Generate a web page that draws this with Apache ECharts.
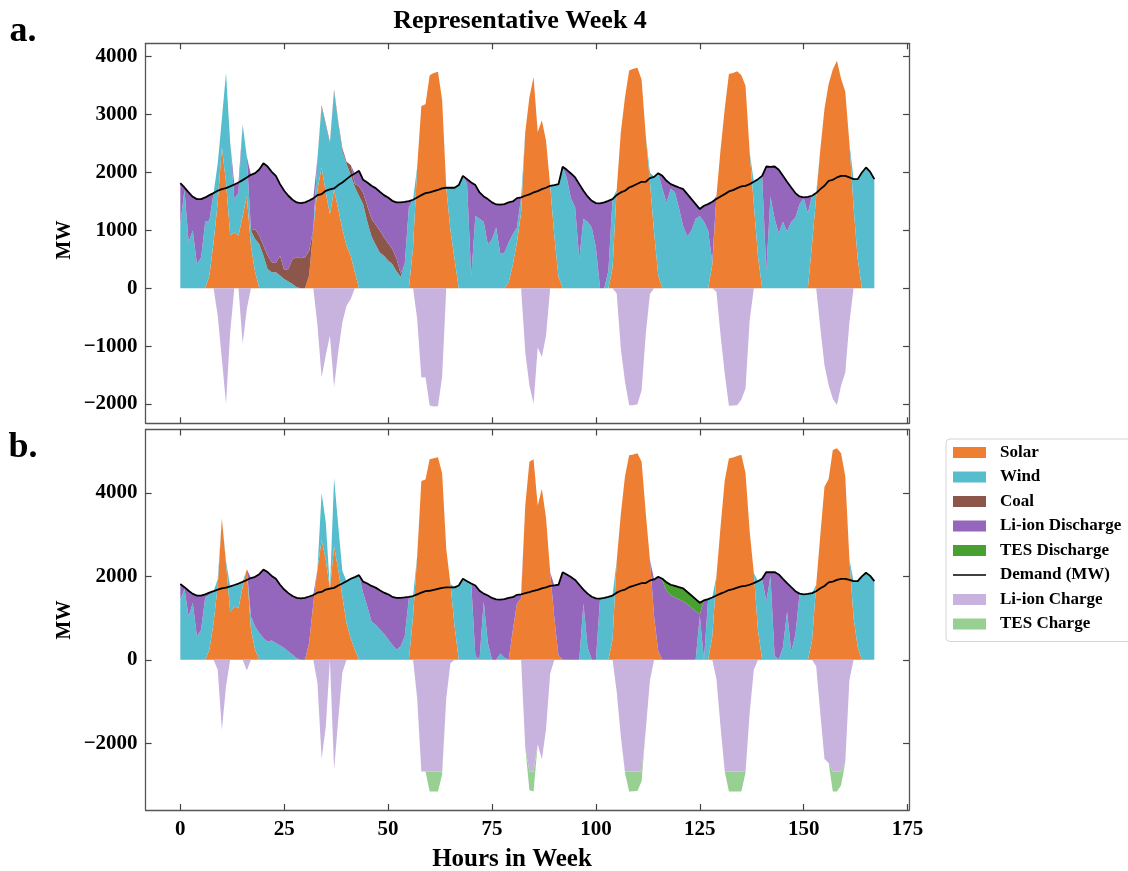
<!DOCTYPE html>
<html>
<head>
<meta charset="utf-8">
<script src="https://cdn.jsdelivr.net/npm/echarts@6/dist/echarts.min.js"></script>
<style>
html,body{margin:0;padding:0;background:#fff;}
#chart{width:1128px;height:871px;}
</style>
</head>
<body>
<div id="chart"></div>
<script>
// Hourly dispatch for one representative week (hours 0..167), MW.
const HOURS = Array.from({length: 168}, (_, i) => i);

const DEMAND = [
1816,1741,1655,1580,1540,1540,1569,1609,1644,1684,1713,1730,
1759,1793,1828,1868,1914,1960,1988,2052,2161,2103,2011,1942,
1799,1684,1598,1529,1483,1471,1483,1517,1552,1609,1626,1684,
1707,1724,1782,1828,1885,1942,1983,2029,1874,1828,1770,1730,
1667,1609,1569,1511,1483,1483,1494,1506,1529,1569,1609,1644,
1655,1678,1701,1724,1736,1736,1736,1782,1942,1885,1828,1782,
1655,1586,1540,1483,1448,1443,1454,1483,1500,1557,1569,1598,
1621,1655,1678,1713,1736,1770,1782,1799,2100,2046,1983,1914,
1799,1684,1586,1511,1471,1465,1483,1511,1540,1609,1655,1684,
1741,1770,1805,1839,1839,1902,1925,1988,1942,1856,1799,1770,
1741,1713,1626,1540,1454,1368,1425,1454,1494,1540,1586,1626,
1672,1695,1730,1759,1770,1799,1839,1885,1942,2103,2098,2103,
2046,1942,1839,1741,1644,1586,1569,1580,1598,1644,1713,1770,
1856,1874,1914,1942,1942,1914,1885,1885,2000,2086,2011,1885];

// ---- Case a ----
const SOLAR_A = [
0,0,0,0,0,0,0,220,790,1480,2430,1830,
920,965,910,1250,1590,735,275,0,0,0,0,0,
0,0,0,0,0,0,0,220,1020,1710,2085,1655,
1280,1700,1370,1020,735,565,275,0,0,0,0,0,
0,0,0,0,0,0,0,0,700,2100,3150,3180,
3680,3720,3740,3250,1736,1000,500,0,0,0,0,0,
0,0,0,0,0,0,0,100,400,800,1300,2700,
3300,3650,2700,2900,2550,1770,900,200,0,0,0,0,
0,0,0,0,0,0,0,0,350,1700,2700,3300,
3760,3790,3810,3600,2630,1830,965,220,0,0,0,0,
0,0,0,0,0,0,0,0,400,1600,2400,3100,
3700,3720,3750,3680,3500,2350,1450,550,0,0,0,0,
0,0,0,0,0,0,0,0,760,1580,2400,3100,
3530,3780,3930,3620,3400,2500,1400,500,0,0,0,0];

const WIND_A = [
1100,1700,800,1000,420,530,1150,950,854,670,500,1890,
1600,575,740,1580,684,265,575,765,565,335,275,275,
220,160,115,75,17,0,0,0,0,540,1045,1160,
1215,1700,1480,1350,1415,1395,1475,1600,1450,1150,900,750,
620,560,480,420,300,200,420,1400,829,0,0,0,
0,0,0,0,0,736,1236,1782,1942,1800,200,1250,
1200,1150,750,850,1050,590,620,690,535,250,269,0,
0,0,0,0,0,0,882,1599,2100,1900,1550,1400,
500,1200,1150,1050,700,0,0,300,1190,0,0,0,
0,0,0,0,0,170,960,1768,1720,1480,1720,1660,
1380,1070,900,1000,1200,1250,1150,1000,50,0,0,0,
0,0,0,0,0,0,389,1335,1942,300,1580,1200,
950,1150,980,1150,1220,1450,1560,1300,838,64,0,0,
0,0,0,0,0,0,485,1385,2000,2086,2011,1885];

const COAL_A = [
0,0,0,0,0,0,0,0,0,0,0,0,
0,0,0,0,0,0,170,145,170,230,175,162,
343,156,218,431,517,517,534,430,0,0,30,29,
27,31,32,43,35,167,50,160,200,270,300,350,
380,320,300,260,220,60,0,0,0,0,0,0,
0,0,0,0,0,0,0,0,0,0,0,0,
0,0,0,0,0,0,0,0,0,0,0,0,
0,0,0,0,0,0,0,0,0,0,0,0,
0,0,0,0,0,0,0,0,0,0,0,0,
0,0,0,0,0,0,0,0,0,0,0,0,
0,0,0,0,0,0,0,0,0,0,0,0,
0,0,0,0,0,0,0,0,0,0,0,0,
0,0,0,0,0,0,0,0,0,0,0,0,
0,0,0,0,0,0,0,0,0,0,0,0];

const LI_DIS_A = [
716,41,855,580,1120,1010,419,439,0,0,0,0,
0,253,178,0,0,960,968,1142,1426,1538,1561,1505,
1236,1368,1265,1023,949,954,949,867,532,0,0,0,
0,0,0,0,0,0,183,269,224,408,570,630,
667,729,789,831,963,1223,1074,106,0,0,0,0,
0,0,0,0,0,0,0,0,0,85,1628,532,
455,436,790,633,398,853,834,693,565,507,0,0,
0,0,0,0,0,0,0,0,0,146,433,514,
1299,484,436,461,771,1465,1483,1211,0,0,0,0,
0,0,0,0,0,0,0,0,222,376,79,110,
361,643,726,540,254,118,275,454,1044,0,0,0,
0,0,0,0,0,0,0,0,0,1803,518,903,
1096,792,859,591,424,136,9,280,0,0,0,0,
0,0,0,0,0,0,0,0,0,0,0,0];

const LI_CHG_A = [
0,0,0,0,0,0,0,0,0,-470,-1220,-1994,
-760,0,0,-960,-360,0,0,0,0,0,0,0,
0,0,0,0,0,0,0,0,0,-640,-1535,-1160,
-815,-1707,-1100,-585,-300,-185,0,0,0,0,0,0,
0,0,0,0,0,0,0,0,0,-530,-1540,-1536,
-2025,-2042,-2039,-1526,0,0,0,0,0,0,0,0,
0,0,0,0,0,0,0,0,0,0,0,-1102,
-1679,-1995,-1022,-1187,-814,0,0,0,0,0,0,0,
0,0,0,0,0,0,0,0,0,-91,-1045,-1616,
-2019,-2020,-2005,-1761,-791,-98,0,0,0,0,0,0,
0,0,0,0,0,0,0,0,0,-60,-814,-1474,
-2028,-2025,-2020,-1921,-1730,-551,0,0,0,0,0,0,
0,0,0,0,0,0,0,0,0,0,-687,-1330,
-1674,-1906,-2016,-1678,-1458,-586,0,0,0,0,0,0];

// ---- Case b ----
const SOLAR_B = [
0,0,0,0,0,0,0,240,880,1760,3393,2300,
1158,1277,1237,1756,2169,720,240,0,0,0,0,0,
0,0,0,0,0,0,0,400,1357,2156,2874,2395,
1700,2714,2156,1517,878,519,240,0,0,0,0,0,
0,0,0,0,0,0,0,0,1038,2495,4284,4319,
4809,4832,4855,4471,2650,1816,798,0,0,0,0,0,
0,0,0,0,0,0,0,0,700,1350,1477,3700,
4750,4809,3700,4100,3400,2100,1000,100,0,0,0,0,
0,0,0,0,0,0,0,0,480,2367,3500,4400,
4900,4920,4950,4750,3513,2400,1038,200,0,0,0,0,
0,0,0,0,0,0,0,0,550,2000,3200,4301,
4826,4849,4884,4913,4480,3076,2079,700,0,0,0,0,
0,0,0,0,0,0,0,0,450,1800,3000,4150,
4331,5028,5068,4950,4400,2400,1000,300,0,0,0,0];

const WIND_B = [
1440,1700,1040,1360,560,720,1500,1320,764,164,0,70,
601,516,591,112,0,320,560,640,520,430,460,400,
340,280,200,120,40,0,0,0,0,13,1126,905,
7,1645,1063,611,1007,1423,1743,2029,1597,1277,918,838,
735,623,495,359,240,320,559,1477,491,0,0,0,
0,0,0,0,0,0,938,1782,1942,1885,1828,100,
0,1400,400,0,0,150,50,0,0,0,0,0,
0,0,0,0,0,0,0,0,0,0,0,0,
0,1350,300,0,0,1465,1483,1511,1060,0,0,0,
0,0,0,0,0,0,0,0,0,0,0,0,
0,0,0,0,0,1050,0,1454,944,0,0,0,
0,0,0,0,0,0,0,1185,1942,1400,2000,100,
0,300,1150,200,600,1586,1569,1580,1148,0,0,0,
0,0,0,0,0,0,885,1585,2000,2086,2011,1885];

const LI_DIS_B = [
376,41,615,220,980,820,69,49,0,0,0,0,
0,0,0,0,0,920,1188,1412,1641,1673,1551,1542,
1459,1404,1398,1409,1443,1471,1483,1117,195,0,0,0,
0,0,0,0,0,0,0,0,277,551,852,892,
932,986,1074,1152,1243,1163,935,29,0,0,0,0,
0,0,0,0,0,0,0,0,0,0,0,1682,
1655,186,1140,1483,1448,1293,1404,1483,800,207,92,0,
0,0,0,0,0,0,782,1699,2100,2046,1983,1914,
1799,334,1286,1511,1471,0,0,0,0,0,0,0,
0,0,0,0,0,0,887,1788,1892,1656,1549,1500,
1451,1403,1336,1250,1164,38,1425,0,0,0,0,0,
0,0,0,0,0,0,0,0,0,703,98,2003,
2046,1642,689,1541,1044,0,0,0,0,0,0,0,
0,0,0,0,0,0,0,0,0,0,0,0];

const TES_DIS_B = [
0,0,0,0,0,0,0,0,0,0,0,0,
0,0,0,0,0,0,0,0,0,0,0,0,
0,0,0,0,0,0,0,0,0,0,0,0,
0,0,0,0,0,0,0,0,0,0,0,0,
0,0,0,0,0,0,0,0,0,0,0,0,
0,0,0,0,0,0,0,0,0,0,0,0,
0,0,0,0,0,0,0,0,0,0,0,0,
0,0,0,0,0,0,0,0,0,0,0,0,
0,0,0,0,0,0,0,0,0,0,0,0,
0,0,0,0,0,0,0,0,50,200,250,270,
290,310,290,290,290,280,0,0,0,0,0,0,
0,0,0,0,0,0,0,0,0,0,0,0,
0,0,0,0,0,0,0,0,0,0,0,0,
0,0,0,0,0,0,0,0,0,0,0,0];

const LI_CHG_B = [
0,0,0,0,0,0,0,0,0,-240,-1680,-640,
0,0,0,0,-255,0,0,0,0,0,0,0,
0,0,0,0,0,0,0,0,0,-560,-2374,-1616,
0,-2635,-1437,-300,0,0,0,0,0,0,0,0,
0,0,0,0,0,0,0,0,0,-926,-2675,-2675,
-2675,-2675,-2675,-2675,-914,-80,0,0,0,0,0,0,
0,0,0,0,0,0,0,0,0,0,0,-2102,
-2675,-2675,-2022,-2387,-1664,-330,0,0,0,0,0,0,
0,0,0,0,0,0,0,0,0,-758,-1845,-2675,
-2675,-2675,-2675,-2675,-1674,-498,0,0,0,0,0,0,
0,0,0,0,0,0,0,0,0,-460,-1614,-2675,
-2675,-2675,-2675,-2675,-2675,-1277,-240,0,0,0,0,0,
0,0,0,0,0,0,0,0,0,-156,-1287,-2380,
-2475,-2675,-2675,-2675,-2458,-486,0,0,0,0,0,0];

const TES_CHG_B = [
0,0,0,0,0,0,0,0,0,0,0,0,
0,0,0,0,0,0,0,0,0,0,0,0,
0,0,0,0,0,0,0,0,0,0,0,0,
0,0,0,0,0,0,0,0,0,0,0,0,
0,0,0,0,0,0,0,0,0,0,0,0,
-479,-479,-479,-72,0,0,0,0,0,0,0,0,
0,0,0,0,0,0,0,0,0,0,0,0,
-454,-479,0,0,0,0,0,0,0,0,0,0,
0,0,0,0,0,0,0,0,0,0,0,-41,
-484,-475,-470,-236,0,0,0,0,0,0,0,0,
0,0,0,0,0,0,0,0,0,0,0,0,
-479,-479,-479,-479,-35,0,0,0,0,0,0,0,
0,0,0,0,0,0,0,0,0,0,0,0,
0,-479,-479,-333,0,0,0,0,0,0,0,0];

// Axis ticks
const X_TICKS = [0, 25, 50, 75, 100, 125, 150, 175];
const Y_TICKS_A = [-2000, -1000, 0, 1000, 2000, 3000, 4000];
const Y_TICKS_B = [-2000, 0, 2000, 4000];

const COLORS = {
  'Solar': '#EE7F32',
  'Wind': '#56BDCE',
  'Coal': '#8C564B',
  'Li-ion Discharge': '#9467BD',
  'TES Discharge': '#47A02F',
  'Demand (MW)': '#000000',
  'Li-ion Charge': '#C8B3DF',
  'TES Charge': '#97D092'
};

const SERIF = '"Liberation Serif", "Times New Roman", "DejaVu Serif", serif';
const fmt = v => (v < 0 ? '\u2212' + Math.abs(v) : String(v));

// Layout: frame spans hours -8.35..175.35; data spans hours 0..167.
const PX_PER_HOUR = 4.156;
const FRAME_LEFT = 145.6;
const FRAME_W = 183.7 * PX_PER_HOUR;
const DATA_LEFT = FRAME_LEFT + 8.35 * PX_PER_HOUR;
const DATA_W = 167 * PX_PER_HOUR;
const PANELS = [
  {top: 43.3, height: 380, min: -2332, max: 4231, ticks: Y_TICKS_A},
  {top: 429.5, height: 380.5, min: -3600, max: 5520, ticks: Y_TICKS_B}
];

const tickStyle = {show: true, inside: true, length: 6, lineStyle: {color: '#444', width: 1.2}};
const labelFont = {fontFamily: SERIF, fontWeight: 'bold', fontSize: 21, color: '#000'};
const frameLine = {show: true, onZero: false, lineStyle: {color: '#555', width: 1.3}};

const grids = [], xAxes = [], yAxes = [];
PANELS.forEach((p, k) => {
  // frame grid (ticks, labels, border) -> index 2k ; data grid -> index 2k+1
  grids.push({left: FRAME_LEFT, top: p.top, width: FRAME_W, height: p.height, outerBoundsMode: 'none'});
  grids.push({left: DATA_LEFT, top: p.top, width: DATA_W, height: p.height, outerBoundsMode: 'none'});
  const fg = 2 * k, dg = 2 * k + 1;
  ['bottom', 'top'].forEach(pos => {
    const withLabels = (k === 1 && pos === 'bottom');
    xAxes.push({
      type: 'value', gridIndex: fg, position: pos, min: -8.35, max: 175.35,
      axisLine: frameLine, splitLine: {show: false},
      axisTick: Object.assign({}, tickStyle, {customValues: X_TICKS}),
      axisLabel: withLabels
        ? Object.assign({}, labelFont, {margin: 9, customValues: X_TICKS, formatter: fmt})
        : {show: false}
    });
  });
  ['left', 'right'].forEach(pos => {
    yAxes.push({
      type: 'value', gridIndex: fg, position: pos, min: p.min, max: p.max,
      axisLine: frameLine, splitLine: {show: false},
      axisTick: Object.assign({}, tickStyle, {customValues: p.ticks}),
      axisLabel: pos === 'left'
        ? Object.assign({}, labelFont, {margin: 8, customValues: p.ticks, formatter: fmt})
        : {show: false}
    });
  });
  xAxes.push({type: 'category', gridIndex: dg, data: HOURS, boundaryGap: false, show: false});
  yAxes.push({type: 'value', gridIndex: dg, min: p.min, max: p.max, show: false});
});
// data axes: panel a -> x 2 / y 2 ; panel b -> x 5 / y 5
const DATA_AXIS = [2, 5];

function areaSeries(name, vals, panel, stack) {
  const c = COLORS[name];
  return {
    name: name, type: 'line', xAxisIndex: DATA_AXIS[panel], yAxisIndex: DATA_AXIS[panel],
    data: vals, stack: stack + panel, stackStrategy: 'all',
    symbol: 'none', showSymbol: false, lineStyle: {width: 0},
    itemStyle: {color: c}, areaStyle: {color: c, opacity: 1},
    silent: true, z: 2
  };
}
function demandSeries(panel) {
  return {
    name: 'Demand (MW)', type: 'line', xAxisIndex: DATA_AXIS[panel], yAxisIndex: DATA_AXIS[panel],
    data: DEMAND, symbol: 'none', showSymbol: false,
    lineStyle: {color: '#000', width: 1.8}, itemStyle: {color: '#000'},
    silent: true, z: 5
  };
}

const series = [
  areaSeries('Solar', SOLAR_A, 0, 'pos'),
  areaSeries('Wind', WIND_A, 0, 'pos'),
  areaSeries('Coal', COAL_A, 0, 'pos'),
  areaSeries('Li-ion Discharge', LI_DIS_A, 0, 'pos'),
  areaSeries('Li-ion Charge', LI_CHG_A, 0, 'neg'),
  demandSeries(0),
  areaSeries('Solar', SOLAR_B, 1, 'pos'),
  areaSeries('Wind', WIND_B, 1, 'pos'),
  areaSeries('Li-ion Discharge', LI_DIS_B, 1, 'pos'),
  areaSeries('TES Discharge', TES_DIS_B, 1, 'pos'),
  areaSeries('Li-ion Charge', LI_CHG_B, 1, 'neg'),
  areaSeries('TES Charge', TES_CHG_B, 1, 'neg'),
  demandSeries(1)
];

const legendNames = ['Solar', 'Wind', 'Coal', 'Li-ion Discharge', 'TES Discharge',
                     'Demand (MW)', 'Li-ion Charge', 'TES Charge'];

function txt(text, x, y, size, rotation) {
  return {
    type: 'text', x: x, y: y, rotation: rotation || 0, silent: true,
    style: {
      text: text, fill: '#000', fontFamily: SERIF, fontWeight: 'bold', fontSize: size,
      textAlign: 'center', align: 'center', textVerticalAlign: 'middle', verticalAlign: 'middle'
    }
  };
}

const chart = echarts.init(document.getElementById('chart'), null, {renderer: 'canvas'});
chart.setOption({
  animation: false,
  backgroundColor: '#fff',
  grid: grids,
  xAxis: xAxes,
  yAxis: yAxes,
  legend: {
    orient: 'vertical', left: 946, top: 439,
    data: legendNames.map(n => ({
      name: n,
      icon: n === 'Demand (MW)' ? 'path://M0,0H100V5H0Z' : 'rect'
    })),
    itemWidth: 33, itemHeight: 11, itemGap: 7.5,
    symbolKeepAspect: true,
    itemStyle: {borderWidth: 0},
    textStyle: {fontFamily: SERIF, fontWeight: 'bold', fontSize: 17, color: '#000', padding: [0, 0, 0, 9]},
    borderColor: '#d4d4d4', borderWidth: 1, borderRadius: 4,
    padding: [5, 12, 9, 7],
    selectedMode: false
  },
  graphic: [
    txt('Representative Week 4', 520, 21, 26),
    txt('a.', 23, 32, 36),
    txt('b.', 23, 448, 36),
    txt('MW', 65, 240, 20, Math.PI / 2),
    txt('MW', 65, 620, 20, Math.PI / 2),
    txt('Hours in Week', 512, 860, 25)
  ],
  series: series
});
</script>
</body>
</html>
